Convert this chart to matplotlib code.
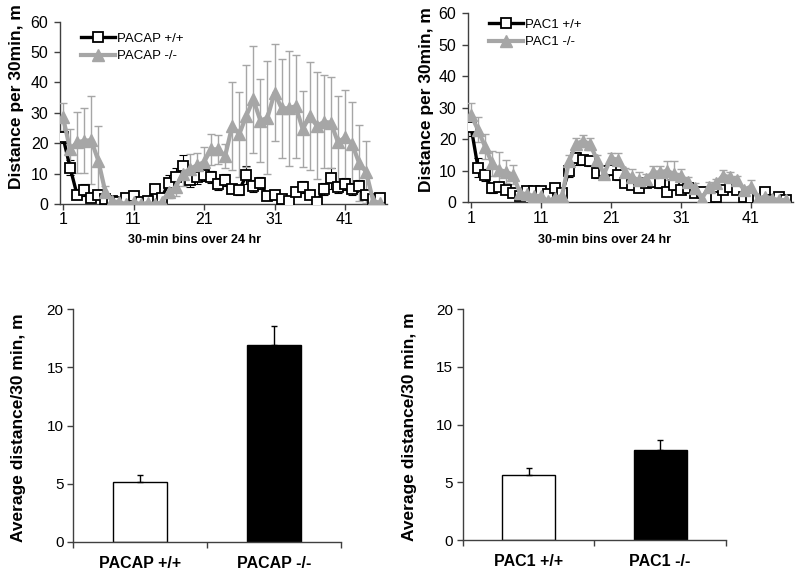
import matplotlib
matplotlib.use("Agg")
import matplotlib.pyplot as plt
import numpy as np

plt.rcParams["font.family"] = ["Liberation Sans", "DejaVu Sans"]

# 30-min bins over 24 hr
bins = np.arange(1, 47)
bin_ticks = [1, 11, 21, 31, 41]

pacap_wt = [22, 12, 3, 4.5, 2, 3, 1.5, 1, 0.5, 2, 2.5, 0.5, 1, 5, 2, 7, 9, 12.5, 8, 9,
            9.5, 9, 6.5, 8, 5, 4.5, 9.5, 6, 7, 2.5, 3, 1.5, 1, 4, 5.5, 3, 0.5, 5, 8.5, 5.5,
            6.5, 5, 6, 3, 1.5, 2]
pacap_wt_err = [2, 2.5, 1.5, 2, 1, 1, 0.8, 0.5, 0.5, 1, 1, 0.5, 0.5, 1.5, 1, 2.5, 3, 3.5, 2.5, 2.5,
                2, 2, 2, 2, 1.5, 1.5, 3, 2, 2, 1, 1, 1, 0.5, 1.5, 2, 1, 0.5, 2, 3.5, 2,
                2, 2, 2, 1.5, 1, 1]
pacap_ko = [28.5, 18, 20.3, 20.8, 21, 14.3, 4, 1, 0.5, 0, 0.5, 0, 0.3, 0, 0.5, 4, 5.6, 10, 11.6, 12.7,
            13.8, 18, 18, 15.8, 25.7, 23, 29, 34.4, 27.4, 28.4, 36.6, 31.5, 31.5, 32.2, 24.6, 29, 25.7, 27, 26.8, 20.3,
            21.9, 19.8, 13.5, 10.5, 1, 0.3]
pacap_ko_err = [4.6, 6.7, 10, 10.7, 14.4, 11.4, 2, 1, 0.5, 0.5, 0.5, 0.5, 0.5, 0.5, 1, 2, 3, 4, 5, 4,
                5, 5, 4.7, 4, 14.4, 14, 16.8, 17.6, 13.6, 18.6, 16, 16.3, 19, 17, 12.5, 17.7, 17.6, 15.3, 15, 15.2,
                15.5, 13.8, 12.5, 10.3, 1, 1]

pac1_wt = [24, 11, 8.7, 4.4, 5, 4, 3, 2, 3.5, 3.5, 3.5, 2.5, 4.5, 3, 10, 14, 13.5, 13, 9.2, 10,
           10.3, 8.7, 6, 5.5, 4.4, 6, 6.5, 6, 3.4, 5.5, 4, 4.5, 2.9, 3.4, 1.3, 1.8, 3.9, 5, 3.9, 1.8,
           1.3, 0.7, 3.4, 0.7, 1.8, 0.7]
pac1_wt_err = [3, 3, 2, 1.5, 1.5, 1, 1, 1, 1, 1, 1, 1, 1, 1, 2, 2, 1.5, 1.5, 1.5, 1.5,
               1.5, 1.5, 1, 1, 1, 1, 1.5, 1.5, 1.5, 1.5, 1, 1, 1, 1, 0.5, 0.5, 1, 1.5, 1, 0.5,
               0.5, 0.5, 1, 0.5, 0.5, 0.5]
pac1_ko = [27.7, 23, 17.7, 12.4, 10.3, 9.7, 8.7, 3, 2.5, 2, 2, 0.3, 1.5, 2, 13, 18.5, 19.5, 18.5, 13.5, 9,
           14, 13.5, 9.5, 8, 7, 7.5, 9.5, 9.5, 10, 9, 8.5, 6.5, 4.5, 1.2, 5, 6, 8.5, 8, 7, 4,
           5, 1.2, 1.8, 1.2, 0.7, 0.7]
pac1_ko_err = [3.7, 4, 4, 4, 5.7, 3.7, 3, 1, 1, 1, 1, 0.5, 1, 1, 2, 2, 2, 2, 1.5, 1.5,
               1.6, 2, 1.5, 2.5, 2.5, 1.5, 2, 2, 3, 4, 2, 1.5, 1.5, 0.5, 1.5, 1.5, 1.6, 1.5, 1.5, 1,
               2, 0.5, 0.5, 0.5, 0.5, 0.5]

# 24-hr averages
pacap_groups = ["PACAP +/+", "PACAP -/-"]
pacap_avg = [5.1, 16.9]
pacap_avg_err = [0.6, 1.65]
pac1_groups = ["PAC1 +/+", "PAC1 -/-"]
pac1_avg = [5.6, 7.8]
pac1_avg_err = [0.65, 0.9]

GRAY = "#a6a6a6"
AXIS = "#404040"
W, H = 800, 577

fig = plt.figure(figsize=(8.0, 5.77), dpi=100)


def px_axes(left, right, bottom_px, top_px):
    return fig.add_axes([left / W, 1 - bottom_px / H, (right - left) / W, (bottom_px - top_px) / H])


def line_panel(ax, wt, wt_err, ko, ko_err, names, legend_y):
    ax.errorbar(bins, wt, yerr=wt_err, fmt="none", ecolor="black", elinewidth=0.8,
                capsize=3, capthick=0.8, zorder=2)
    ax.errorbar(bins, ko, yerr=ko_err, fmt="none", ecolor=GRAY, elinewidth=1.0,
                capsize=3, capthick=1.0, zorder=3)
    ax.plot(bins, wt, color="black", lw=2.4, marker="s", ms=7.5, mfc="white",
            mec="black", mew=1.3, label=names[0], zorder=4)
    ax.plot(bins, ko, color=GRAY, lw=3, marker="^", ms=9, mfc=GRAY, mec=GRAY,
            label=names[1], zorder=5)
    ax.set_xlim(0.5, 47)
    ax.set_ylim(0, 60)
    ax.set_xticks(bin_ticks)
    ax.set_yticks(range(0, 61, 10))
    for side in ("top", "right"):
        ax.spines[side].set_visible(False)
    for side in ("left", "bottom"):
        ax.spines[side].set_linewidth(1.0)
        ax.spines[side].set_color(AXIS)
    ax.tick_params(direction="out", length=4, width=1, labelsize=11.5, color=AXIS)
    ax.tick_params(axis="x", pad=2)
    ax.tick_params(axis="y", pad=4)
    ax.legend(loc="upper left", bbox_to_anchor=(0.05, legend_y), frameon=False,
              fontsize=9.5, handlelength=2.6, handletextpad=0.1, labelspacing=0.4,
              borderaxespad=0)


ax1 = px_axes(59.5, 387.3, 204, 21.7)
line_panel(ax1, pacap_wt, pacap_wt_err, pacap_ko, pacap_ko_err,
           ["PACAP +/+", "PACAP -/-"], 0.97)
ax2 = px_axes(467.5, 793, 202.3, 13.3)
line_panel(ax2, pac1_wt, pac1_wt_err, pac1_ko, pac1_ko_err,
           ["PAC1 +/+", "PAC1 -/-"], 1.0)

fig.text(17 / W, 1 - 97 / H, "Distance per 30min, m", rotation=90, ha="center",
         va="center", fontsize=12.5, fontweight="bold")
fig.text(426 / W, 1 - 100 / H, "Distance per 30min, m", rotation=90, ha="center",
         va="center", fontsize=12.5, fontweight="bold")
fig.text(195 / W, 1 - 240 / H, "30-min bins over 24 hr", ha="center", va="center",
         fontsize=9, fontweight="bold")
fig.text(604 / W, 1 - 240 / H, "30-min bins over 24 hr", ha="center", va="center",
         fontsize=9, fontweight="bold")


def bar_panel(ax, groups, avg, err):
    x = np.arange(len(groups))
    ax.bar(x, avg, width=0.4, color=["white", "black"], edgecolor="black", linewidth=1.0,
           zorder=2)
    ax.errorbar(x, avg, yerr=[np.zeros(len(err)), err], fmt="none", ecolor="black",
                elinewidth=1.0, capsize=2.5, capthick=1.0, zorder=3)
    ax.set_xlim(-0.5, 1.5)
    ax.set_ylim(0, 20)
    ax.set_yticks(range(0, 21, 5))
    ax.set_xticks([-0.5, 0.5, 1.5])
    ax.set_xticklabels([])
    ax.set_xticks(x, minor=True)
    ax.set_xticklabels(groups, minor=True, fontsize=11.5, fontweight="bold")
    ax.tick_params(axis="x", which="minor", length=0, pad=10)
    ax.tick_params(axis="x", which="major", direction="out", length=4, width=1,
                   color=AXIS)
    ax.tick_params(axis="y", direction="out", length=4, width=1, labelsize=11,
                   color=AXIS, pad=3)
    for side in ("top", "right"):
        ax.spines[side].set_visible(False)
    for side in ("left", "bottom"):
        ax.spines[side].set_linewidth(1.0)
        ax.spines[side].set_color(AXIS)


ax3 = px_axes(73.3, 340.7, 541.7, 309.3)
bar_panel(ax3, pacap_groups, pacap_avg, pacap_avg_err)
ax4 = px_axes(462.7, 726, 540, 309.3)
bar_panel(ax4, pac1_groups, pac1_avg, pac1_avg_err)

fig.text(19 / W, 1 - 428 / H, "Average distance/30 min, m", rotation=90, ha="center",
         va="center", fontsize=12.5, fontweight="bold")
fig.text(410 / W, 1 - 427 / H, "Average distance/30 min, m", rotation=90, ha="center",
         va="center", fontsize=12.5, fontweight="bold")

fig.savefig("out.png", dpi=100, facecolor="white")
